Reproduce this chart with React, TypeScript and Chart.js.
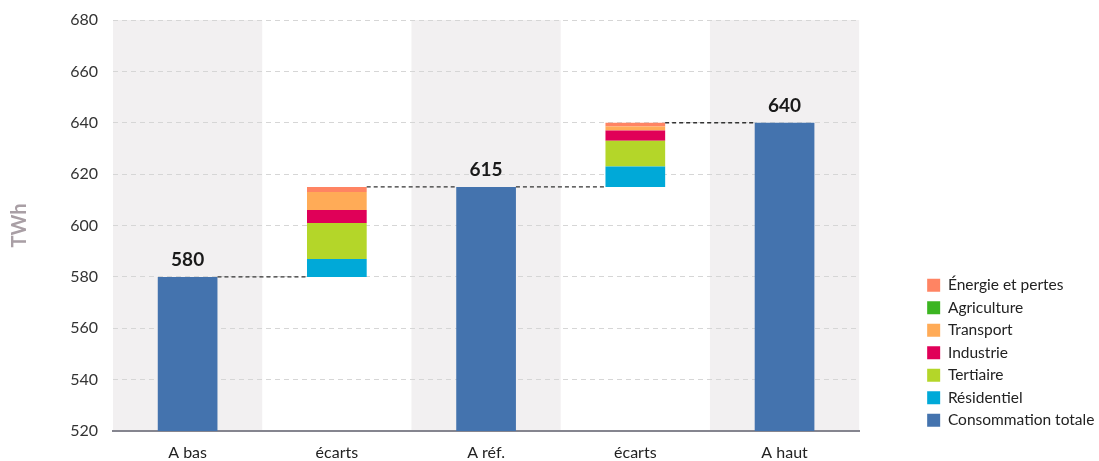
import { useEffect, useRef } from "react";
import { Chart, registerables } from "chart.js";

Chart.register(...registerables);

// Scenario categories along the x axis
const categories = ["A bas", "écarts", "A réf.", "écarts", "A haut"];

// Total consumption per scenario (TWh)
const totals = [580, null, 615, null, 640];

// Invisible floor that lifts each gap bar to the previous total
const floors = [null, 580, null, 615, null];

// Sector contributions to each gap (TWh)
const residentiel = [null, 7, null, 8, null];
const tertiaire = [null, 14, null, 10, null];
const industrie = [null, 5, null, 4, null];
const transport = [null, 7, null, 1.5, null];
const agriculture = [null, 0, null, 0, null];
const energie = [null, 2, null, 1.5, null];

// Value axis range
const yMin = 520;
const yMax = 680;
const yStep = 20;

const FONT = "Lato, 'Open Sans', sans-serif";
const BAND = "#F2F0F1";

// Light grey bands behind every scenario column
const bandPlugin = {
  id: "bands",
  beforeDraw(chart: any) {
    const { ctx, chartArea, scales } = chart;
    const x = scales.x;
    const w = chartArea.width / categories.length;
    ctx.save();
    ctx.fillStyle = BAND;
    categories.forEach((_, i) => {
      if (i % 2 !== 0) return;
      const cx = x.getPixelForValue(i);
      ctx.fillRect(cx - w / 2, chartArea.top, w, chartArea.bottom - chartArea.top);
    });
    ctx.restore();
  },
};

// Dashed steps linking the top of each column to the next one
const connectorPlugin = {
  id: "connectors",
  afterDatasetsDraw(chart: any) {
    const { ctx } = chart;
    const columns: { top: number; left: number; right: number }[] = [];
    categories.forEach((_, i) => {
      let top = Infinity;
      let left = 0;
      let right = 0;
      chart.data.datasets.forEach((ds: any, d: number) => {
        if (ds.data[i] == null) return;
        const el = chart.getDatasetMeta(d).data[i];
        if (!el) return;
        if (el.y < top) top = el.y;
        left = el.x - el.width / 2;
        right = el.x + el.width / 2;
      });
      columns.push({ top, left, right });
    });
    ctx.save();
    ctx.strokeStyle = "#333333";
    ctx.lineWidth = 1.3;
    ctx.setLineDash([4, 3]);
    for (let i = 0; i < columns.length - 1; i++) {
      const a = columns[i];
      const b = columns[i + 1];
      ctx.beginPath();
      ctx.moveTo(a.right, a.top);
      ctx.lineTo(b.left, a.top);
      ctx.stroke();
    }
    ctx.restore();
  },
};

// Value labels above the total bars
const totalLabelPlugin = {
  id: "totalLabels",
  afterDatasetsDraw(chart: any) {
    const { ctx } = chart;
    const idx = chart.data.datasets.findIndex((d: any) => d.label === "Consommation totale");
    const meta = chart.getDatasetMeta(idx);
    ctx.save();
    ctx.fillStyle = "#1A1A1A";
    ctx.font = `bold 19px ${FONT}`;
    ctx.textAlign = "center";
    ctx.textBaseline = "alphabetic";
    totals.forEach((v, i) => {
      if (v == null) return;
      const el = meta.data[i];
      ctx.fillText(String(v), el.x, el.y - 11);
    });
    ctx.restore();
  },
};

// Nudge the legend block slightly right and down, past the plot edge
const legendNudgePlugin = {
  id: "legendNudge",
  afterLayout(chart: any) {
    const lg = chart.legend;
    if (!lg) return;
    lg.left += 6;
    lg.right += 6;
    lg.top += 4;
    lg.bottom += 4;
  },
};

export default function App() {
  const canvasRef = useRef<HTMLCanvasElement | null>(null);

  useEffect(() => {
    if (!canvasRef.current) return;
    const chart = new Chart(canvasRef.current, {
      type: "bar",
      data: {
        labels: categories,
        datasets: [
          { label: "Consommation totale", data: totals, backgroundColor: "#4473AE" },
          { label: "floor", data: floors, backgroundColor: "rgba(0,0,0,0)" },
          { label: "Résidentiel", data: residentiel, backgroundColor: "#00A9D8" },
          { label: "Tertiaire", data: tertiaire, backgroundColor: "#B4D629" },
          { label: "Industrie", data: industrie, backgroundColor: "#E00058" },
          { label: "Transport", data: transport, backgroundColor: "#FFAB57" },
          { label: "Agriculture", data: agriculture, backgroundColor: "#3CB521" },
          { label: "Énergie et pertes", data: energie, backgroundColor: "#FF8463" },
        ],
      },
      options: {
        animation: false,
        responsive: true,
        maintainAspectRatio: false,
        layout: { padding: { top: 20, right: 2, bottom: 0, left: 0 } },
        datasets: {
          bar: { categoryPercentage: 1, barPercentage: 0.4, borderWidth: 0 },
        },
        scales: {
          x: {
            stacked: true,
            afterFit: (s: any) => {
              s.height = 30;
            },
            grid: { display: false, drawTicks: false },
            border: { display: true, color: "#85858F", width: 2 },
            ticks: { color: "#222222", padding: 12, font: { family: FONT, size: 16 } },
          },
          y: {
            stacked: true,
            min: yMin,
            max: yMax,
            position: "left",
            afterFit: (s: any) => {
              s.width = 113;
              s.paddingTop = 0;
              s.paddingBottom = 0;
            },
            ticks: {
              stepSize: yStep,
              color: "#333333",
              padding: 15,
              font: { family: FONT, size: 16 },
            },
            grid: { color: "#D6D6D6", lineWidth: 1, drawTicks: false },
            border: { display: false, dash: [5, 4] },
            title: {
              display: true,
              text: "TWh",
              color: "#A99FA5",
              padding: { top: 8, bottom: 0 },
              font: { family: FONT, size: 20, weight: "bold" },
            },
          },
          spacer: {
            type: "linear",
            position: "right",
            display: true,
            afterFit: (s: any) => {
              s.width = 55;
              s.paddingTop = 0;
              s.paddingBottom = 0;
            },
            ticks: { display: false },
            grid: { display: false, drawTicks: false },
            border: { display: false },
          },
        },
        plugins: {
          tooltip: { enabled: false },
          legend: {
            position: "right",
            align: "end",
            fullSize: false,
            reverse: true,
            labels: {
              boxWidth: 13,
              boxHeight: 13,
              padding: 7,
              color: "#222222",
              font: { family: FONT, size: 15.5 },
              filter: (item: any) => item.text !== "floor",
            },
          },
        },
      },
      plugins: [bandPlugin, connectorPlugin, totalLabelPlugin, legendNudgePlugin],
    });
    return () => chart.destroy();
  }, []);

  return (
    <div style={{ position: "absolute", left: 0, top: 0, width: 1099, height: 461, background: "#FFFFFF" }}>
      <canvas ref={canvasRef} />
    </div>
  );
}
